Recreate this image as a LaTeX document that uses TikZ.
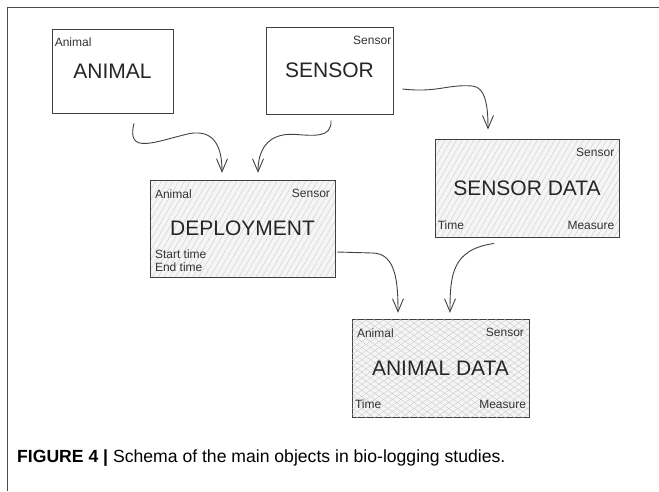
\documentclass[tikz,border=0pt]{standalone}
\usepackage{fontspec}
\setmainfont{Liberation Sans}
\usepackage{tikz}
\usetikzlibrary{
  arrows.meta,
  positioning,
  patterns.meta
}
\tikzset{
  entity box/.style={
    draw=black!75, rectangle, line width=0.9pt,
    inner sep=0pt, text=black!85,
    font=\fontsize{21}{24}\selectfont
  },
  plain box/.style={
    entity box, fill=white
  },
  hatched box/.style={
    entity box, preaction={fill=black!4},
    pattern={Lines[angle=60,distance=5pt,line width=0.35pt]},
    pattern color=black!22
  },
  crossed box/.style={
    entity box, preaction={fill=black!4},
    pattern={Lines[angle=35,distance=5pt,line width=0.35pt]},
    pattern color=black!22,
    postaction={pattern={Lines[angle=145,distance=5pt,line width=0.35pt]},
      pattern color=black!22}
  },
  corner tag/.style={
    font=\fontsize{12}{13}\selectfont, text=black!80,
    inner xsep=5pt, inner ysep=8pt
  },
  top tag/.style={
    corner tag, inner ysep=9.5pt
  },
  link arrow/.style={
    -{Straight Barb[length=13pt,width=11pt]}, line width=0.9pt, draw=black!75
  },
  frame line/.style={
    draw=black!70, line width=0.8pt
  },
}
\begin{document}
\begin{tikzpicture}[x=1pt, y=-1pt]
  \useasboundingbox (0,0) rectangle (659,491);

  % figure frame
  \draw[frame line] (7,491) -- (7,7) -- (659,7);

  \node[plain box, minimum width=121pt, minimum height=84pt]
    (animal)   at (112.5,71)  {ANIMAL};
  \node[plain box, minimum width=127pt, minimum height=87pt]
    (sensor)   at (329.5,70.5) {SENSOR};
  \node[hatched box, minimum width=185pt, minimum height=97pt]
    (deploy)   at (242.5,228.5) {DEPLOYMENT};
  \node[hatched box, minimum width=184pt, minimum height=98pt]
    (sensdata) at (527,188)   {SENSOR DATA};
  \node[crossed box, minimum width=177pt, minimum height=98pt]
    (animdata) at (440.5,368) {ANIMAL DATA};

  % corner tags
  \node[top tag, anchor=north west, inner xsep=3pt] (animal-a) at (animal.north west) {Animal};
  \node[top tag, anchor=north east, inner xsep=2pt] (sensor-s) at (sensor.north east) {Sensor};

  \node[top tag, anchor=north west] (deploy-a) at (deploy.north west) {Animal};
  \node[top tag, anchor=north east] (deploy-s) at (deploy.north east) {Sensor};
  \node[corner tag, anchor=south west, align=left, inner ysep=5pt]
    (deploy-t) at (deploy.south west) {Start time\\End time};

  \node[top tag, anchor=north east] (sensdata-s) at (sensdata.north east) {Sensor};
  \node[corner tag, anchor=south west, inner xsep=3pt] (sensdata-t) at (sensdata.south west) {Time};
  \node[corner tag, anchor=south east] (sensdata-m) at (sensdata.south east) {Measure};

  \node[top tag, anchor=north west] (animdata-a) at (animdata.north west) {Animal};
  \node[top tag, anchor=north east] (animdata-s) at (animdata.north east) {Sensor};
  \node[corner tag, anchor=south west, inner xsep=3pt] (animdata-t) at (animdata.south west) {Time};
  \node[corner tag, anchor=south east, inner xsep=3pt] (animdata-m) at (animdata.south east) {Measure};

  % arrow ends
  \coordinate (a1) at ([xshift=21.5pt, yshift=-10pt]animal.south);
  \coordinate (t1) at ([xshift=-20.5pt, yshift=7pt]deploy.north);
  \coordinate (a2) at ([xshift=1.5pt, yshift=-6pt]sensor.south);
  \coordinate (t2) at ([xshift=15.5pt, yshift=7pt]deploy.north);
  \coordinate (a3) at ([xshift=9pt, yshift=-18.5pt]sensor.east);
  \coordinate (t3) at ([xshift=-39pt, yshift=9pt]sensdata.north);
  \coordinate (a4) at ([xshift=2pt, yshift=-23.5pt]deploy.east);
  \coordinate (t4) at ([xshift=-42.5pt, yshift=6pt]animdata.north);
  \coordinate (a5) at ([xshift=-33pt, yshift=-6pt]sensdata.south);
  \coordinate (t5) at ([xshift=9.5pt, yshift=6pt]animdata.north);

  \draw[link arrow] (a1) .. controls +(-8,32) and +(-35,8) .. ++(56,10)
    .. controls +(25,-4) and +(0,-25) .. (t1);
  \draw[link arrow] (a2) .. controls +(1,18) and +(18,1) .. ++(-36,14)
    .. controls +(-28,-2) and +(0,-22) .. (t2);
  \draw[link arrow] (a3) .. controls +(35,4) and +(-25,-2) .. ++(70,-3)
    .. controls +(14,1) and +(0,-20) .. (t3);
  \draw[link arrow] (a4) -- ++(35,1) .. controls +(24,0) and +(0,-30) .. (t4);
  \draw[link arrow] (a5) .. controls +(-42,6) and +(0,-38) .. (t5);

  \node[anchor=west, inner sep=0pt, font=\fontsize{17.6}{20}\selectfont]
    (caption) at (17,458)
    {\textbf{FIGURE 4 |} Schema of the main objects in bio-logging studies.};

\end{tikzpicture}
\end{document}
